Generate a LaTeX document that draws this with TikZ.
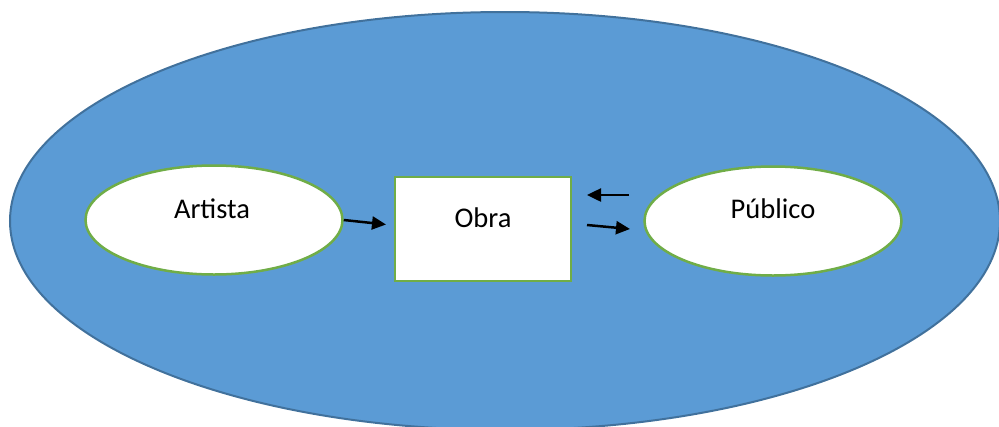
\documentclass[tikz,border=0pt]{standalone}
\usepackage{fontspec}
\setmainfont{Carlito}
\usetikzlibrary{shapes.geometric,arrows.meta}
\definecolor{bigfill}{HTML}{5B9BD5}
\definecolor{bigline}{HTML}{41719C}
\definecolor{greenline}{HTML}{70AD47}
\tikzset{
  bigell/.style={ellipse, fill=bigfill, draw=bigline, line width=2pt, inner sep=0pt},
  whiteell/.style={ellipse, fill=white, draw=greenline, line width=2.5pt, inner sep=0pt, minimum width=257pt, minimum height=109pt},
  whitebox/.style={rectangle, fill=white, draw=greenline, line width=2.5pt, inner sep=0pt, minimum width=176pt, minimum height=104pt},
  txt/.style={font=\fontsize{28.5}{33}\selectfont, anchor=base, inner sep=0pt},
  arr/.style={-{Triangle[length=14pt,width=13pt]}, line width=2.5pt, black}
}
\begin{document}
\begin{tikzpicture}[x=1pt,y=-1pt]
\useasboundingbox (0,0) rectangle (999,426);
\clip (0,0) rectangle (999,426);
\node[bigell, minimum width=990pt, minimum height=418pt] (outer) at (505,221) {};
\node[whiteell] (art) at (214,220) {};
\node[whiteell] (pub) at (773,221) {};
\node[whitebox] (obra) at (483,229) {};
\node[txt] (tart) at (212,218) {Artista};
\node[txt] (tpub) at (773,218) {Público};
\node[txt] (tobra) at (483,227) {Obra};
\coordinate (a1) at (386,224.5);
\coordinate (b1) at (629,195);
\coordinate (b2) at (587,195);
\coordinate (c1) at (587,225);
\coordinate (c2) at (630,229);
\draw[arr] (art.east) -- (a1);
\draw[arr] (b1) -- (b2);
\draw[arr] (c1) -- (c2);
\end{tikzpicture}
\end{document}
